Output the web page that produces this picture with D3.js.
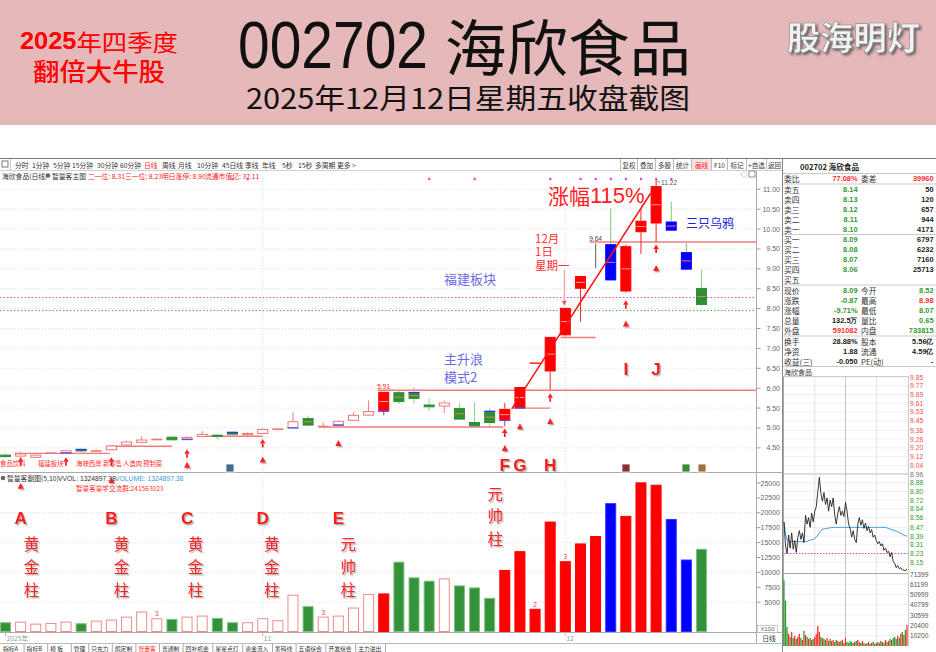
<!DOCTYPE html>
<html><head><meta charset="utf-8">
<script src="https://cdn.jsdelivr.net/npm/d3@7/dist/d3.min.js"></script>
<style>html,body{margin:0;padding:0;background:#fff;overflow:hidden}svg{display:block}</style>
</head><body>
<svg id="chart" width="936" height="652"></svg>
<script>
// ================= DATA =================
const opens  = [4.33,4.28,4.25,4.36,4.37,4.46,4.40,4.44,4.56,4.625,4.69,4.78,4.71,4.775,4.83,4.89,4.82,4.85,4.95,5.00,5.25,5.03,5.07,5.18,5.31,5.42,5.90,5.89,5.59,5.54,5.50,5.15,5.42,5.19,5.50,6.63,6.42,7.33,8.50,9.02,9.62,8.43,9.92,10.14,10.19,9.42,8.52];
const highs  = [4.36,4.40,4.35,4.39,4.45,4.48,4.46,4.57,4.68,4.79,4.75,4.80,4.79,4.92,4.85,4.91,4.89,4.99,5.00,5.39,5.31,5.13,5.20,5.39,5.69,5.91,5.93,6.02,5.74,5.69,5.63,5.65,5.50,5.625,6.03,6.63,7.29,8.02,8.82,9.64,10.52,9.60,10.50,11.22,10.69,9.65,8.98];
const lows   = [4.25,4.26,4.24,4.35,4.36,4.38,4.39,4.43,4.55,4.62,4.68,4.68,4.70,4.77,4.71,4.80,4.81,4.84,4.94,4.99,5.04,5.02,5.06,5.17,5.30,5.32,5.60,5.61,5.43,5.38,5.20,5.03,5.04,5.04,5.48,6.63,5.96,7.30,7.67,9.02,8.70,8.40,9.375,9.68,9.96,8.97,8.07];
const closes = [4.27,4.36,4.33,4.37,4.44,4.41,4.44,4.56,4.66,4.71,4.73,4.69,4.775,4.85,4.775,4.83,4.875,4.975,4.99,5.17,5.06,5.04,5.18,5.33,5.425,5.91,5.65,5.73,5.52,5.64,5.21,5.04,5.125,5.48,6.03,6.63,7.29,8.02,8.82,9.64,8.71,9.57,10.21,11.08,9.96,8.98,8.09];
const volumes = [1640,1740,1400,1520,1740,1470,1910,2080,2580,3430,2310,2200,2580,2750,2360,1640,1640,2310,1980,6250,4340,2580,2750,4100,6370,6470,11800,9170,8610,9000,7820,7480,5740,10420,13560,3890,18530,11880,14860,16100,21620,19480,25110,24710,18970,12160,13970];
// d = down (green), u = small up (hollow), r = strong up (red), b = crash (blue), x = limit bar
const barKind = ["d","u","u","u","u","d","u","u","u","u","u","d","u","u","d","d","u","u","u","u","d","u","u","u","u","r","d","d","d","u","d","d","d","r","r","r","r","r","r","x","b","r","r","r","b","b","d"];
const lowSignal  = [4,12,19,22,25,33,34];
const highSignal = [5,15,27,32];
const topDots = [15,16,28,31,36,38,39,40,41,42,43,44];
const volNotes = [[10,"3"],[21,"3"],[35,"2"],[37,"3"]];
const priceTicks = [11.00,10.50,10.00,9.50,9.00,8.50,8.00,7.50,7.00,6.50,6.00,5.50,5.00,4.50];
const volTicks = [25000,22500,20000,17500,15000,12500,10000,7500,5000];
const volGrid = [5000,10000,15000,20000];
const monthMarks = [[0,"2025年"],[17,"11"],[37,"12"]];
const valueLabels = [[25,"5.91"],[39,"9.64"],[43,"11.22"]];
// annotation lines [price, fromIndex, toIndex]
const supportLines = [[4.36,0.6,6.9],[4.54,6.7,11.0],[4.79,12.7,17.0],[5.025,20.7,32.9],[5.95,24.6,49.6],[5.5,33.5,36.0],[7.275,36.7,39.0],[9.675,38.6,49.6]];
const trendLine = [[33.46,5.48],[42.64,10.9]];
const upMarks = [[1,4.15],[4,4.15],[7,4.15],[12,4.35],[17,4.61],[33,4.875],[36,5.76],[41,8.10],[43,9.5]];
const signalArrows = [["A",1,3.62],["B",7,3.77],["C",12,4.15],["D",17,4.28],["E",22,4.70],["F",33,4.57],["G",34,5.12],["H",36,5.25],["I",41,7.70],["J",43,9.10]];
const levelDotted = [[8.28,"#d040d0"],[7.95,"#30a030"]];

// intraday (3-minute samples)
const minutePrice = [8.52,8.30,8.23,8.40,8.28,8.42,8.27,8.35,8.24,8.38,8.44,8.36,8.42,8.33,8.58,8.50,8.56,8.47,8.60,8.52,8.62,8.66,8.80,8.93,8.78,8.71,8.79,8.68,8.74,8.62,8.72,8.66,8.74,8.58,8.50,8.60,8.66,8.58,8.62,8.57,8.70,8.62,8.50,8.46,8.38,8.44,8.36,8.33,8.50,8.56,8.49,8.54,8.46,8.51,8.44,8.48,8.42,8.45,8.38,8.40,8.35,8.32,8.34,8.30,8.32,8.26,8.28,8.24,8.25,8.20,8.24,8.16,8.14,8.10,8.12,8.09,8.10,8.08,8.08,8.07,8.09];
const minuteAvg = [8.52,8.40,8.36,8.34,8.34,8.34,8.34,8.34,8.34,8.34,8.34,8.34,8.34,8.34,8.34,8.34,8.35,8.35,8.36,8.36,8.37,8.38,8.40,8.42,8.44,8.45,8.455,8.46,8.46,8.465,8.465,8.47,8.47,8.47,8.47,8.47,8.47,8.47,8.47,8.47,8.47,8.47,8.47,8.47,8.47,8.47,8.47,8.47,8.47,8.47,8.47,8.47,8.47,8.47,8.47,8.47,8.47,8.47,8.47,8.47,8.47,8.47,8.47,8.47,8.47,8.47,8.47,8.465,8.46,8.455,8.45,8.445,8.44,8.435,8.43,8.42,8.415,8.41,8.40,8.395,8.39];
const minuteVol = [65000,45000,19000,12000,9000,14000,8000,10000,7000,9000,12000,8000,6000,15000,11000,9000,7000,8000,6000,7000,9000,12000,20000,14000,9000,8000,7000,6000,8000,5000,7000,5000,6000,4000,6000,5000,4000,5000,6000,3000,8000,4000,3000,5000,4000,3000,4000,5000,6000,4000,3000,5000,3000,2000,3000,4000,2000,3000,4000,2000,3000,4000,3000,5000,4000,3000,6000,4000,5000,7000,6000,8000,9000,7000,10000,8000,12000,14000,11000,16000,21000];
const prevClose = 8.96;
const intraPriceLabels = ["9.85","9.77","9.69","9.61","9.53","9.45","9.36","9.28","9.20","9.12","9.04","8.96","8.88","8.80","8.72","8.64","8.56","8.47","8.39","8.31","8.23","8.15"];
const intraVolLabels = ["71399","61199","50999","40799","30599","20400","10200"];

// quote table
const quoteHead = ["委比","77.08%","委差","39960"];
const askRows = [["卖五","8.14","50"],["卖四","8.13","120"],["卖三","8.12","657"],["卖二","8.11","944"],["卖一","8.10","4171"]];
const bidRows = [["买一","8.09","6797"],["买二","8.08","6232"],["买三","8.07","7160"],["买四","8.06","25713"],["买五","",""]];
const statRows = [["现价","8.09","今开","8.52"],["涨跌","-0.87","最高","8.98"],["涨幅","-9.71%","最低","8.07"],["总量","132.5万","量比","0.65"],["外盘","591082","内盘","733815"]];
const statColors = [["g","g"],["g","r"],["g","g"],["k","g"],["r","g"]];
const finRows = [["换手","28.88%","股本","5.56亿"],["净资","1.88","流通","4.59亿"],["收益(三)","-0.050","PE(动)","-"]];

const periodTabs = ["分时","1分钟","5分钟","15分钟","30分钟","60分钟","日线","周线","月线","10分钟","45日线","季线","年线","5秒","15秒","多周期","更多 >"];
const toolButtons = ["复权","叠加","多股","统计","画线","F10","标记","+自选","返回"];
const conceptTags = ["食品饮料","福建板块","海峡西岸","新零售","人造肉","预制菜"];
const bottomTabs = ["指标A","指标B","模 板","管理","只充力","焗定制","智量客","普通制","回补机会","星星点灯","资金流入","筹码线","五语综合","开发综合","主力进出"];

// ================= DRAW =================
const svg = d3.select("#chart");
const CJK = "'Noto Sans CJK SC','Noto Sans',sans-serif";
const NUM = "'Liberation Sans',Arial,sans-serif";
const defs = svg.append("defs");
const f = defs.append("filter").attr("id","sh").attr("x","-30%").attr("y","-30%").attr("width","160%").attr("height","160%");
f.append("feDropShadow").attr("dx",1.4).attr("dy",1.4).attr("stdDeviation",0.7).attr("flood-color","#666").attr("flood-opacity",0.55);
const f2 = defs.append("filter").attr("id","emb").attr("x","-20%").attr("y","-20%").attr("width","140%").attr("height","140%");
f2.append("feDropShadow").attr("dx",2).attr("dy",2).attr("stdDeviation",1.2).attr("flood-color","#555").attr("flood-opacity",0.8);

function txt(g, s, x, y, o = {}) {
  const t = g.append("text").attr("x", x).attr("y", y).text(s)
    .attr("font-family", o.ff || CJK).attr("font-size", o.fs || 7)
    .attr("fill", o.fill || "#333").attr("font-weight", o.fw || "normal")
    .attr("text-anchor", o.anchor || "start")
    .attr("dominant-baseline", o.db || "central");
  if (o.tl) t.attr("textLength", o.tl).attr("lengthAdjust", "spacingAndGlyphs");
  if (o.filter) t.attr("filter", o.filter);
  return t;
}
function line(g, x1, y1, x2, y2, stroke, w = 1, dash = null) {
  const l = g.append("line").attr("x1", x1).attr("y1", y1).attr("x2", x2).attr("y2", y2)
    .attr("stroke", stroke).attr("stroke-width", w);
  if (dash) l.attr("stroke-dasharray", dash);
  return l;
}

// ---- header band ----
svg.append("rect").attr("width", 936).attr("height", 125).attr("fill", "#e5b8b9");
const h1 = txt(svg, "", 99, 41, {fs: 23, fill: "#ff0000", anchor: "middle", tl: 158});
h1.append("tspan").attr("font-weight", "bold").attr("font-family", NUM).text("2025");
h1.append("tspan").text("年四季度");
txt(svg, "翻倍大牛股", 99, 70, {fs: 25, fill: "#ff0000", anchor: "middle", tl: 132, fw: 500});
txt(svg, "002702", 238, 68, {fs: 66, fill: "#111", db: "auto", ff: "'Liberation Sans Narrow','Liberation Sans',sans-serif", tl: 190});
txt(svg, "海欣食品", 445, 71, {fs: 61, fill: "#111", db: "auto", tl: 246});
txt(svg, "2025年12月12日星期五收盘截图", 246, 109, {fs: 28, fill: "#111", db: "auto", tl: 444});
txt(svg, "股海明灯", 787, 50, {fs: 33, fw: "bold", fill: "#f2f2f2", db: "auto", tl: 133, filter: "url(#emb)"})
  .attr("stroke", "#8a8a8a").attr("stroke-width", 0.6);

// ---- scales ----
const x = d3.scaleLinear().domain([0, 46]).range([5.5, 701.5]);
const y = d3.scaleLinear().domain([6.5, 11]).range([368.3, 189.3]);
const yv = d3.scaleLinear().domain([0, 25000]).range([632, 483]);
const cw = 11;

// ---- frame / toolbar ----
const fr = svg.append("g");
line(fr, 0, 158.5, 936, 158.5, "#777");
line(fr, 0, 170.5, 783, 170.5, "#d0d0d0");
fr.append("rect").attr("x", 2).attr("y", 161).attr("width", 6).attr("height", 6).attr("fill", "none").attr("stroke", "#555").attr("stroke-width", 0.8);
line(fr, 10.5, 159, 10.5, 170, "#ccc");
const tabX = [15, 32, 53, 72, 97, 120, 144, 162, 178, 197, 222, 245, 262, 282, 298, 315, 337];
periodTabs.forEach((s, i) => txt(fr, s, tabX[i], 164.5, {fs: 6.8, fill: s === "日线" ? "#ff2020" : "#333"}));
const btnX = [620, 637, 655, 673, 691, 711, 727, 746, 766, 782];
toolButtons.forEach((s, i) => {
  line(fr, btnX[i] + 0.5, 159, btnX[i] + 0.5, 170, "#bbb");
  if (s === "画线") fr.append("rect").attr("x", btnX[i] + 1).attr("y", 159).attr("width", btnX[i + 1] - btnX[i] - 1).attr("height", 11).attr("fill", "#fde0e0");
  txt(fr, s, (btnX[i] + btnX[i + 1]) / 2 + 0.5, 164.5, {fs: 6.6, anchor: "middle", fill: s === "画线" ? "#ff2020" : "#333"});
});
// info line
txt(fr, "海欣食品(日线)", 2, 175.5, {fs: 6.8});
fr.append("circle").attr("cx", 48).attr("cy", 175.5).attr("r", 2.3).attr("fill", "#666");
txt(fr, "智量客主图", 52, 175.5, {fs: 6.8});
txt(fr, "二一位: 8.31", 88, 175.5, {fs: 6.8, fill: "#ff2020"});
txt(fr, "三一位: 8.23", 125, 175.5, {fs: 6.8, fill: "#ff2020"});
txt(fr, "明日涨停: 8.90", 162, 175.5, {fs: 6.8, fill: "#ff2020"});
txt(fr, "流通市值亿: 37.11", 205, 175.5, {fs: 6.8, fill: "#ff2020"});
txt(fr, "◇", 744, 174, {fs: 7, anchor: "middle", fill: "#666"});
fr.append("rect").attr("x", 749).attr("y", 171).attr("width", 6).attr("height", 6).attr("fill", "none").attr("stroke", "#666").attr("stroke-width", 0.7);

// ---- grids ----
const grid = svg.append("g");
priceTicks.forEach(p => line(grid, 0, y(p), 756, y(p), "#d4d4d4", 0.8, "1,2"));
volGrid.forEach(v => line(grid, 0, yv(v), 756, yv(v), "#d4d4d4", 0.8, "1,2"));
[17, 37].forEach(i => line(grid, x(i), 178, x(i), 632, "#d4d4d4", 0.8, "1,2"));
levelDotted.forEach(([p, c]) => line(grid, 0, y(p), 756, y(p), c, 0.9, "1.5,2"));

// pane borders and axis
line(fr, 756.5, 171, 756.5, 643, "#aaa");
line(fr, 782.5, 158, 782.5, 652, "#888");
line(fr, 0, 472.5, 783, 472.5, "#aaa");
line(fr, 0, 632.5, 783, 632.5, "#aaa");
line(fr, 0, 643.5, 783, 643.5, "#bbb");
priceTicks.forEach(p => {
  line(fr, 756.5, y(p), 760.5, y(p), "#999");
  txt(fr, p.toFixed(2), 780, y(p), {fs: 7, anchor: "end", fill: "#666", ff: NUM});
});
volTicks.forEach(v => {
  line(fr, 756.5, yv(v), 760.5, yv(v), "#999");
  txt(fr, String(v), 780, yv(v), {fs: 7, anchor: "end", fill: "#666", ff: NUM});
});
fr.append("rect").attr("x", 757.5).attr("y", 625.5).attr("width", 20).attr("height", 7).attr("fill", "#fff").attr("stroke", "#aaa").attr("stroke-width", 0.6);
txt(fr, "X100", 767.5, 629.2, {fs: 6, anchor: "middle", fill: "#666", ff: NUM});
txt(fr, "日线", 769, 638, {fs: 6.8, anchor: "middle", fill: "#333"});
monthMarks.forEach(([i, s]) => {
  line(fr, x(i), 632.5, x(i), 636, "#bbb");
  txt(fr, s, x(i) + 1, 638, {fs: 6.8, fill: "#999"});
});
// bottom tabs
let bx = 1;
bottomTabs.forEach(s => {
  const w = s.length * 6.2 + 5;
  txt(fr, s, bx + 2, 648, {fs: 5.8, fill: s === "智量客" ? "#ff2020" : "#333"});
  bx += w;
  line(fr, bx - 0.5, 644, bx - 0.5, 652, "#aaa");
});

// ---- annotation support lines (behind candles) ----
const ann = svg.append("g");
supportLines.forEach(([p, a, b]) => line(ann, x(a), y(p), x(b), y(p), "#f27c7c", 1.4));

// ---- candles ----
const cg = svg.append("g");
const col = {
  u: {body: "#fff", stroke: "#f07676", wick: "#f07676", mid: null},
  r: {body: "#ff0000", stroke: "#ff0000", wick: "#ff2020", mid: "#ff9a9a"},
  d: {body: "#2f8f34", stroke: "#2f8f34", wick: "#8fd08f", mid: "#c99040"},
  b: {body: "#0000ff", stroke: "#0000ff", wick: "#7cc47c", mid: "#ff7070"},
  x: {body: "none", stroke: "#777", wick: "#777", mid: null}
};
opens.forEach((o, i) => {
  const c = closes[i], k = barKind[i], s = col[k];
  const cx = x(i), top = y(Math.max(o, c)), bot = y(Math.min(o, c));
  if (k === "x") { line(cg, cx, y(highs[i]), cx, y(lows[i]), s.wick, 1.2); return; }
  line(cg, cx, y(highs[i]), cx, top, s.wick, 1);
  line(cg, cx, bot, cx, y(lows[i]), s.wick, 1);
  if (bot - top < 1) { line(cg, cx - cw / 2, top, cx + cw / 2, top, s.stroke, 1.3); return; }
  cg.append("rect").attr("x", cx - cw / 2 + 0.5).attr("y", top + 0.5).attr("width", cw - 1).attr("height", Math.max(bot - top - 1, 0.5))
    .attr("fill", s.body).attr("stroke", s.stroke).attr("stroke-width", 1);
  if (s.mid && bot - top > 6) line(cg, cx - cw / 2 + 1, (top + bot) / 2, cx + cw / 2 - 1, (top + bot) / 2, s.mid, 1);
  if (lowSignal.includes(i)) line(cg, cx - cw / 2, bot, cx + cw / 2, bot, "#5050ff", 1.3);
  if (highSignal.includes(i)) line(cg, cx - cw / 2, top, cx + cw / 2, top, "#3030ff", 1.3);
});
topDots.forEach(i => cg.append("rect").attr("x", x(i) - 1).attr("y", y(11.26) - 1).attr("width", 2.2).attr("height", 2.2).attr("fill", "#e040e0"));
valueLabels.forEach(([i, s]) => {
  if (s === "11.22") {
    line(cg, x(i), y(highs[i]), x(i) + 4, y(highs[i]) + 2, "#666", 0.8);
    txt(cg, s, x(i) + 5, y(highs[i]) + 2, {fs: 6.6, fill: "#555", ff: NUM});
  } else {
    txt(cg, s, x(i), y(highs[i]) - 5, {fs: 6.6, anchor: "middle", fill: s === "5.91" ? "#ff2020" : "#444", ff: NUM});
  }
});

// ---- volume bars ----
const vg = svg.append("g");
volumes.forEach((v, i) => {
  const k = barKind[i];
  let fill = "#fff", stroke = "#f08a8a";
  if (k === "d") { fill = "#34923a"; stroke = "#7dc47d"; }
  if (k === "r" || k === "x") { fill = "#ff0000"; stroke = "#ff0000"; }
  if (k === "b") { fill = "#0000ff"; stroke = "#3030ff"; }
  vg.append("rect").attr("x", x(i) - cw / 2 + 0.5).attr("y", yv(v) + 0.5).attr("width", cw - 1).attr("height", yv(0) - yv(v) - 1)
    .attr("fill", fill).attr("stroke", stroke).attr("stroke-width", 1);
});
volNotes.forEach(([i, s]) => txt(vg, s, x(i), yv(volumes[i]) - 4.5, {fs: 6.5, anchor: "middle", fill: "#ff4040", ff: NUM}));
// volume header
vg.append("circle").attr("cx", 3).attr("cy", 478).attr("r", 2.3).attr("fill", "#666");
txt(vg, "智量客副图(5,10)", 7, 478, {fs: 6.8});
txt(vg, "VVOL: 1324897.38", 58, 478, {fs: 6.8, ff: NUM});
txt(vg, "VOLUME: 1324897.38", 115, 478, {fs: 6.8, fill: "#3a9ad9", ff: NUM});
txt(vg, "智量客量学交流群:241563023", 76, 487.5, {fs: 6.6, fill: "#ff3030"});

// concept tag line
const tagX = [0, 38, 76, 103, 123, 143];
conceptTags.forEach((s, i) => txt(svg, s, tagX[i], 463, {fs: 6.4, fill: "#ff3030"}));
// small icons on price pane bottom
[[230, "#4a6a8a"], [626, "#8a3030"], [686, "#3a8a3a"], [702, "#a07040"]].forEach(([px, c]) =>
  svg.append("rect").attr("x", px - 4).attr("y", 464).attr("width", 8).attr("height", 8).attr("fill", c).attr("stroke", "#fff").attr("stroke-width", 0.8));

// ---- trend line ----
const ag = svg.append("g");
ag.append("line").attr("x1", x(trendLine[0][0])).attr("y1", y(trendLine[0][1])).attr("x2", x(trendLine[1][0])).attr("y2", y(trendLine[1][1]))
  .attr("stroke", "#ff1010").attr("stroke-width", 1.5);

// ---- small up markers ----
upMarks.forEach(([i, p]) => {
  const cx = x(i), cy = y(p);
  ag.append("path").attr("d", `M${cx - 2.8},${cy}L${cx + 2.8},${cy}L${cx},${cy - 4.5}Z`).attr("fill", "#ff2020");
  ag.append("rect").attr("x", cx - 0.9).attr("y", cy).attr("width", 1.8).attr("height", 4).attr("fill", "#ff2020");
});

// ---- long signal arrows ----
signalArrows.forEach(([lab, i, top]) => {
  const cx = x(i), ty = y(top), by = yv(volumes[i]);
  ag.append("line").attr("x1", cx).attr("y1", ty + 5).attr("x2", cx).attr("y2", by).attr("stroke", "#f5a3a3").attr("stroke-width", 1.6).attr("filter", "url(#sh)");
  ag.append("path").attr("d", `M${cx - 3},${ty + 6}L${cx + 3},${ty + 6}L${cx},${ty}Z`).attr("fill", "#ff2020").attr("filter", "url(#sh)");
});
const bigLab = {fs: 17, fw: "bold", fill: "#ff1a1a", anchor: "middle", ff: NUM, filter: "url(#sh)"};
signalArrows.forEach(([lab, i]) => {
  let ly;
  if ("ABCDE".includes(lab)) ly = yv(18960);
  else if ("FGH".includes(lab)) ly = y(4.06);
  else ly = y(6.46);
  txt(ag, lab, x(i), ly, bigLab);
});
const lowWord = [14930, 11070, 7210];
const colWords = [["黄金柱", 1, 11, lowWord], ["黄金柱", 7, 10, lowWord], ["黄金柱", 12, 8.5, lowWord],
                  ["黄金柱", 17, 9, lowWord], ["元帅柱", 22, 10, lowWord], ["元帅柱", 33, -9.5, [23320, 19550, 15770]]];
colWords.forEach(([w, i, dx, vs]) => {
  [...w].forEach((ch, j) => txt(ag, ch, x(i) + dx, yv(vs[j]), {fs: 15.5, fill: "#ff2020", anchor: "middle", filter: "url(#sh)"}));
});

// ---- text annotations ----
const za = txt(ag, "", 548, 195, {fs: 21, fill: "#ff2020"});
za.append("tspan").text("涨幅");
za.append("tspan").attr("font-family", NUM).attr("font-size", 22).text("115%");
txt(ag, "三只乌鸦", 686, 222.5, {fs: 12, fill: "#2020e0"});
txt(ag, "12月", 535, 237.5, {fs: 11.5, fill: "#ff3030"});
txt(ag, "1日", 535, 251, {fs: 11.5, fill: "#ff3030"});
txt(ag, "星期一", 535, 264.5, {fs: 11.5, fill: "#ff3030"});
ag.append("line").attr("x1", x(37) - 1).attr("y1", 270).attr("x2", x(37) - 1).attr("y2", y(closes[37]) - 5).attr("stroke", "#f0a0a0").attr("stroke-width", 1.2);
ag.append("path").attr("d", `M${x(37) - 3.5},${y(closes[37]) - 7}L${x(37) + 1.5},${y(closes[37]) - 7}L${x(37) - 1},${y(closes[37]) - 2}Z`).attr("fill", "#e06060");
txt(ag, "福建板块", 444, 278.5, {fs: 13, fill: "#6a6ae6"});
txt(ag, "主升浪", 444, 358, {fs: 13, fill: "#6a6ae6"});
txt(ag, "模式2", 444, 376.5, {fs: 13, fill: "#6a6ae6"});

// ================= RIGHT PANEL =================
const rp = svg.append("g");
const G = "#2f9a2f", R = "#ff2a2a", K = "#222";
const cc = {g: G, r: R, k: K};
txt(rp, "002702 海欣食品", 800, 166.5, {fs: 7.6, fill: K, fw: "bold"});
[173.5, 184, 234.5, 285, 336, 366.5].forEach(yy => line(rp, 783, yy, 936, yy, "#bbb", 0.8));
const L1 = 784, V1 = 857.5, L2 = 861, V2 = 933.5;
txt(rp, quoteHead[0], L1, 178.5, {fs: 7.8});
txt(rp, quoteHead[1], V1, 178.5, {fs: 7.4, anchor: "end", fill: R, fw: "bold", ff: NUM});
txt(rp, quoteHead[2], L2, 178.5, {fs: 7.8});
txt(rp, quoteHead[3], V2, 178.5, {fs: 7.4, anchor: "end", fill: R, fw: "bold", ff: NUM});
askRows.forEach((r, j) => {
  const yy = 189 + j * 10;
  txt(rp, r[0], L1, yy, {fs: 7.8});
  txt(rp, r[1], V1, yy, {fs: 7.4, anchor: "end", fill: G, fw: "bold", ff: NUM});
  txt(rp, r[2], V2, yy, {fs: 7.4, anchor: "end", fill: K, fw: "bold", ff: NUM});
});
bidRows.forEach((r, j) => {
  const yy = 239.5 + j * 10;
  txt(rp, r[0], L1, yy, {fs: 7.8});
  txt(rp, r[1], V1, yy, {fs: 7.4, anchor: "end", fill: G, fw: "bold", ff: NUM});
  txt(rp, r[2], V2, yy, {fs: 7.4, anchor: "end", fill: K, fw: "bold", ff: NUM});
});
statRows.forEach((r, j) => {
  const yy = 290.5 + j * 10;
  txt(rp, r[0], L1, yy, {fs: 7.8});
  txt(rp, r[1], V1, yy, {fs: 7.4, anchor: "end", fill: cc[statColors[j][0]], fw: "bold", ff: NUM});
  txt(rp, r[2], L2, yy, {fs: 7.8});
  txt(rp, r[3], V2, yy, {fs: 7.4, anchor: "end", fill: cc[statColors[j][1]], fw: "bold", ff: NUM});
});
finRows.forEach((r, j) => {
  const yy = 341 + j * 10;
  txt(rp, r[0], L1, yy, {fs: 7.8});
  txt(rp, r[1], V1, yy, {fs: 7.4, anchor: "end", fill: K, fw: "bold", ff: NUM});
  txt(rp, r[2], L2, yy, {fs: 7.8});
  txt(rp, r[3], V2, yy, {fs: 7.4, anchor: "end", fill: K, fw: "bold", ff: NUM});
});
txt(rp, "海欣食品", 784, 372, {fs: 7});

// ---- intraday chart ----
const ix = d3.scaleLinear().domain([0, 80]).range([784, 907]);
const iy = d3.scaleLinear().domain([8.07, 9.85]).range([571, 377]);
const ivy = d3.scaleLinear().domain([0, 71399]).range([646, 574]);
const ig = rp.append("g");
intraPriceLabels.forEach(s => {
  const v = +s;
  line(ig, 783, iy(v), 908, iy(v), v === prevClose ? "#aaa" : "#ececec", 0.8);
  txt(ig, s, 910, iy(v), {fs: 6.8, ff: NUM, fill: v > prevClose ? "#ff4a4a" : v < prevClose ? "#33a033" : "#777"});
});
intraVolLabels.forEach(s => {
  line(ig, 783, ivy(+s), 908, ivy(+s), "#ececec", 0.8);
  txt(ig, s, 910, ivy(+s), {fs: 6.6, ff: NUM, fill: "#555"});
});
[20, 40, 60].forEach(k => line(ig, ix(k), 377, ix(k), 646, k === 40 ? "#b8b8b8" : "#dedede", 0.8));
line(ig, 783.5, 376, 783.5, 646, "#aaa");
line(ig, 908.5, 376, 908.5, 646, "#ccc");
line(ig, 783, 376.5, 908, 376.5, "#ccc");
line(ig, 783, 573.5, 908, 573.5, "#aaa");
line(ig, 784, iy(8.23), 908, iy(8.23), "#cc44cc", 0.9, "1.5,1.5");
minuteVol.forEach((v, k) => {
  const up = k === 0 ? minutePrice[0] >= prevClose : minutePrice[k] >= minutePrice[k - 1];
  ig.append("rect").attr("x", ix(k) - 0.7).attr("y", ivy(v)).attr("width", 1.3).attr("height", ivy(0) - ivy(v))
    .attr("fill", up ? "#ff3030" : "#2f9a2f");
});
ig.append("path").datum(minuteAvg).attr("fill", "none").attr("stroke", "#3a9ae0").attr("stroke-width", 1)
  .attr("d", d3.line().x((d, k) => ix(k)).y(d => iy(d)));
ig.append("path").datum(minutePrice).attr("fill", "none").attr("stroke", "#222").attr("stroke-width", 0.9)
  .attr("d", d3.line().x((d, k) => ix(k)).y(d => iy(d)));
</script>
</body></html>
